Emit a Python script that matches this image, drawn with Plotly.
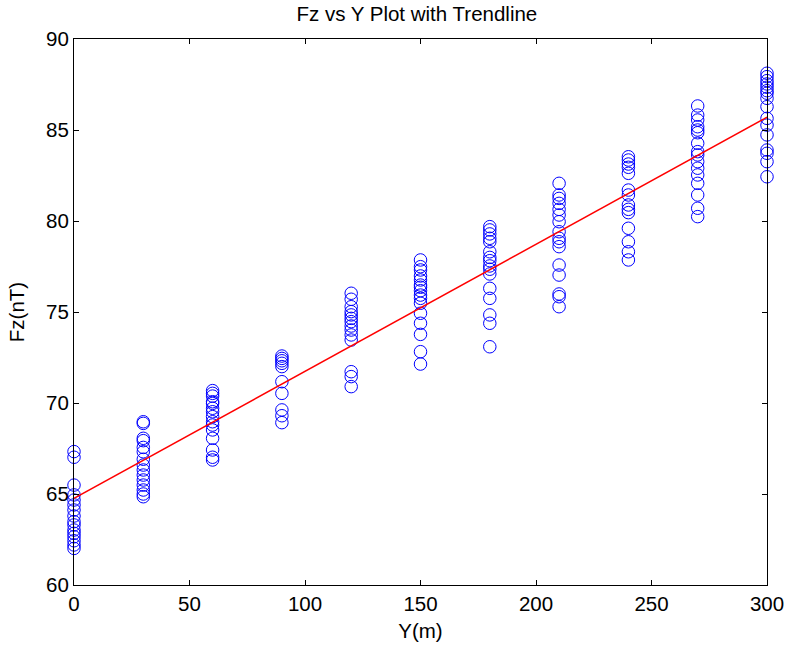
import plotly.graph_objects as go

y_positions = [0, 30, 60, 90, 120, 150, 180, 210, 240, 270, 300]

fz_0 = [67.33, 67.02, 65.49, 64.95, 64.67, 64.40, 64.12, 63.79, 63.48, 63.30, 63.02, 62.84, 62.65, 62.43, 62.20, 62.01]
fz_30 = [68.97, 68.88, 68.06, 67.93, 67.56, 67.32, 66.91, 66.59, 66.32, 66.04, 65.77, 65.49, 65.22, 65.00, 64.85]
fz_60 = [70.68, 70.53, 70.38, 70.07, 69.98, 69.71, 69.52, 69.25, 68.97, 68.79, 68.52, 68.06, 67.42, 67.02, 66.87]
fz_90 = [72.58, 72.45, 72.32, 72.18, 72.00, 71.17, 70.53, 69.62, 69.30, 68.92]
fz_120 = [76.03, 75.70, 75.29, 75.02, 74.84, 74.65, 74.47, 74.23, 74.01, 73.74, 73.46, 71.72, 71.45, 70.90]
fz_150 = [77.86, 77.49, 77.31, 76.98, 76.76, 76.48, 76.36, 76.17, 75.93, 75.75, 75.48, 74.93, 74.38, 73.77, 72.82, 72.14]
fz_180 = [79.69, 79.51, 79.29, 79.05, 78.86, 78.31, 78.00, 77.82, 77.53, 77.35, 77.09, 76.30, 75.75, 74.84, 74.38, 73.09]
fz_210 = [82.07, 81.43, 81.24, 80.97, 80.64, 80.33, 79.96, 79.41, 79.05, 78.86, 78.59, 77.58, 77.03, 75.99, 75.84, 75.29]
fz_240 = [83.53, 83.35, 83.13, 82.95, 82.62, 81.70, 81.43, 80.88, 80.64, 80.46, 79.60, 78.86, 78.31, 77.86]
fz_270 = [86.32, 85.82, 85.55, 85.18, 85.00, 84.85, 84.27, 83.81, 83.63, 83.26, 82.90, 82.53, 82.07, 81.43, 80.70, 80.24]
fz_300 = [88.12, 87.93, 87.71, 87.53, 87.35, 87.16, 87.02, 86.74, 86.28, 85.64, 85.27, 84.73, 83.90, 83.72, 83.26, 82.43]

fz_columns = [fz_0, fz_30, fz_60, fz_90, fz_120, fz_150, fz_180, fz_210, fz_240, fz_270, fz_300]

trend_x = [0, 300]
trend_y = [64.76, 85.70]

x_ticks = [0, 50, 100, 150, 200, 250, 300]
y_ticks = [60, 65, 70, 75, 80, 85, 90]

xs, ys = [], []
for yp, col in zip(y_positions, fz_columns):
    xs.extend([yp] * len(col))
    ys.extend(col)

FONT = "Liberation Sans, Arial, sans-serif"
FS = 20.5

fig = go.Figure()
fig.add_trace(go.Scatter(
    x=xs, y=ys, mode="markers",
    marker=dict(symbol="circle-open", size=12.5, color="#0000FF", line=dict(width=1, color="#0000FF")),
    cliponaxis=False, showlegend=False, hoverinfo="skip",
))
fig.add_trace(go.Scatter(
    x=trend_x, y=trend_y, mode="lines",
    line=dict(color="#FF0000", width=1.5),
    cliponaxis=False, showlegend=False, hoverinfo="skip",
))

axis_common = dict(
    showline=True, linecolor="black", linewidth=1, mirror="ticks",
    ticks="inside", ticklen=5, tickcolor="black", tickwidth=1,
    showgrid=False, zeroline=False, automargin=False,
    tickfont=dict(family=FONT, size=FS, color="black"),
)

fig.update_layout(
    width=788, height=647,
    margin=dict(l=74, r=21, t=39, b=62),
    paper_bgcolor="white", plot_bgcolor="white",
    title=dict(text="Fz vs Y Plot with Trendline", x=0.529, xanchor="center", y=0.978, yanchor="middle",
               font=dict(family=FONT, size=FS, color="black")),
    xaxis=dict(range=[0, 300], tickvals=x_ticks,
               title=dict(text="Y(m)", font=dict(family=FONT, size=FS, color="black"), standoff=10),
               **axis_common),
    yaxis=dict(range=[60, 90], tickvals=y_ticks,
               title=dict(text="Fz(nT)", font=dict(family=FONT, size=FS, color="black"), standoff=15),
               **axis_common),
)

fig.write_html("out.html", config={"displayModeBar": False},
               post_script="document.body.style.margin='0';document.body.style.overflow='hidden';")
